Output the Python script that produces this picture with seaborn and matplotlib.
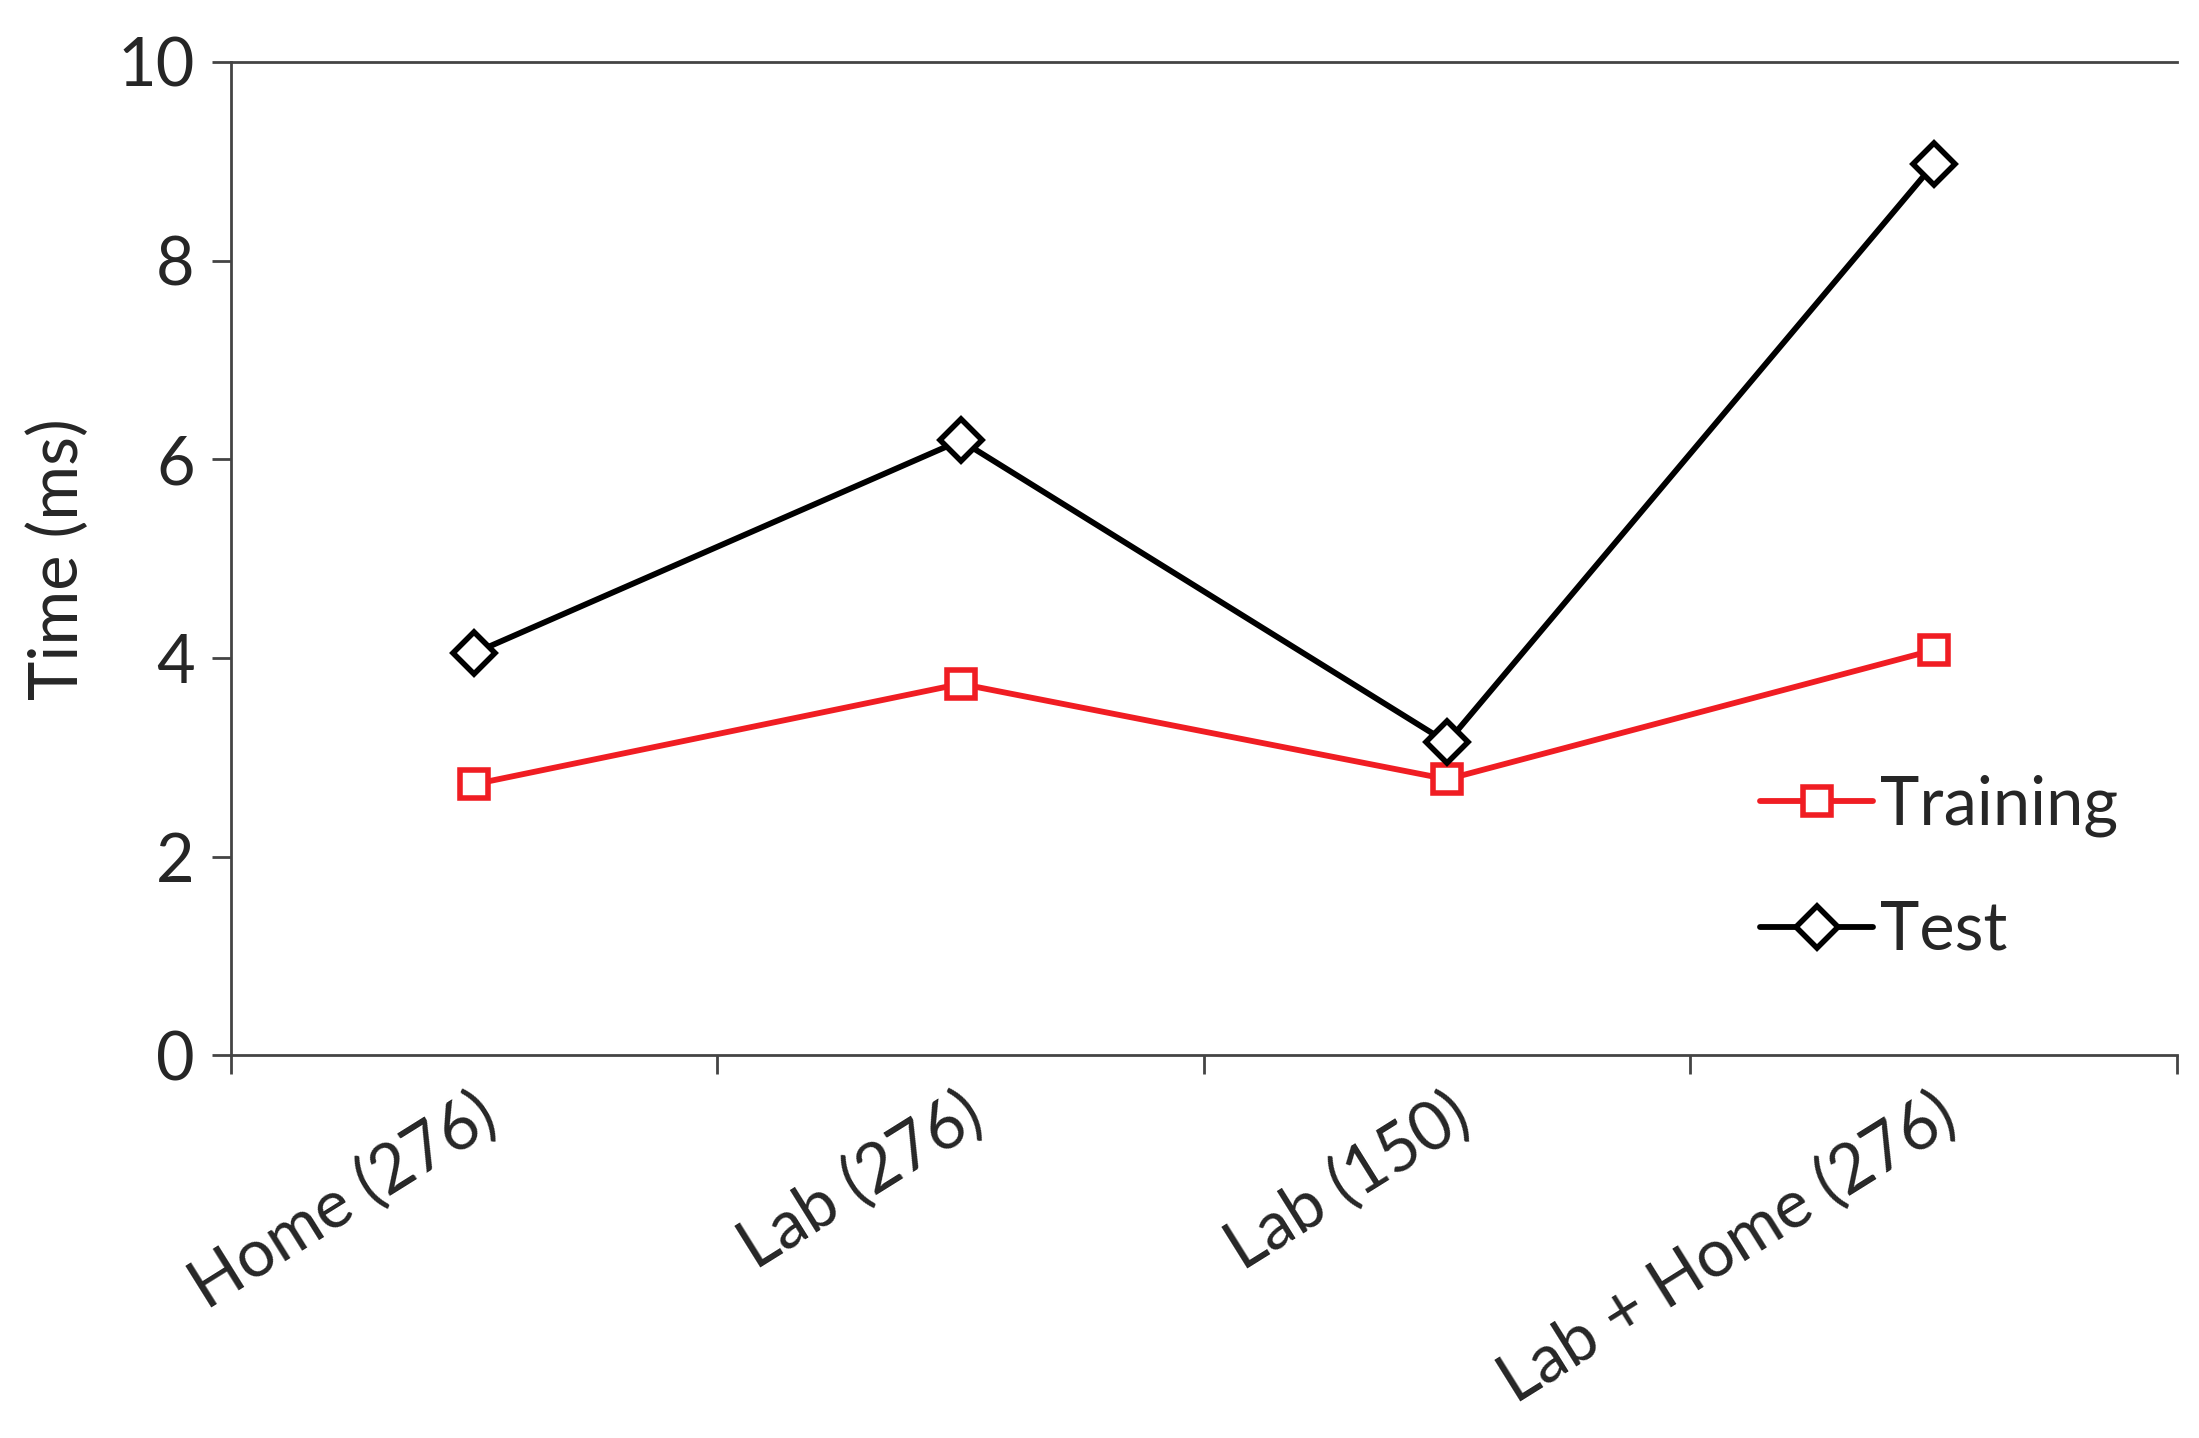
import matplotlib
matplotlib.use("Agg")
import matplotlib.pyplot as plt
import seaborn as sns
import pandas as pd
import numpy as np

categories = ["Home (276)", "Lab (276)", "Lab (150)", "Lab + Home (276)"]
training = [2.73, 3.74, 2.78, 4.08]
test = [4.05, 6.19, 3.15, 8.97]
yticks = [0, 2, 4, 6, 8, 10]

sns.set_theme(style="white")
plt.rcParams['font.family'] = ['Lato', 'DejaVu Sans']

fig = plt.figure(figsize=(10.995, 7.19), dpi=200)
ax = fig.add_axes([0.105, 0.266, 0.885, 0.691])

pos = np.arange(len(categories))
df_tr = pd.DataFrame({"x": pos, "y": training})
df_te = pd.DataFrame({"x": pos, "y": test})

FS = 24
sns.lineplot(data=df_tr, x="x", y="y", ax=ax, color="#f01d23", lw=2.1,
             marker="s", markersize=10, markerfacecolor="white",
             markeredgecolor="#f01d23", markeredgewidth=2.0, label="Training")
sns.lineplot(data=df_te, x="x", y="y", ax=ax, color="black", lw=2.1,
             marker="D", markersize=10.5, markerfacecolor="white",
             markeredgecolor="black", markeredgewidth=2.0, label="Test")

ax.set_xlim(-0.5, len(categories) - 0.5)
ax.set_ylim(0, 10)
ax.set_yticks(yticks)
ax.set_yticklabels([str(v) for v in yticks], fontsize=FS)
ax.set_xticks(pos)
ax.set_xticklabels(categories, fontsize=FS, rotation=32, ha="right",
                   rotation_mode="anchor")
ax.set_xticks(np.arange(-0.5, len(categories)), minor=True)
ax.tick_params(axis="x", which="major", length=0, pad=10)
ax.tick_params(axis="x", which="minor", length=7, width=1.0, color="#444444",
               direction="out", bottom=True)
ax.tick_params(axis="y", which="major", length=7, width=1.0, color="#444444",
               direction="out", left=True, pad=6)

ax.set_xlabel("")
ax.set_ylabel("Time (ms)", fontsize=FS, labelpad=10)

for s in ["left", "bottom", "top"]:
    ax.spines[s].set_visible(True)
    ax.spines[s].set_color("#444444")
    ax.spines[s].set_linewidth(1.0)
ax.spines["right"].set_visible(False)

leg = ax.legend(loc="upper left", bbox_to_anchor=(0.772, 0.31), frameon=False,
                fontsize=FS, handlelength=1.7, handletextpad=0.1,
                labelspacing=0.95, borderaxespad=0)

fig.savefig("out.png", dpi=200, facecolor="white")
